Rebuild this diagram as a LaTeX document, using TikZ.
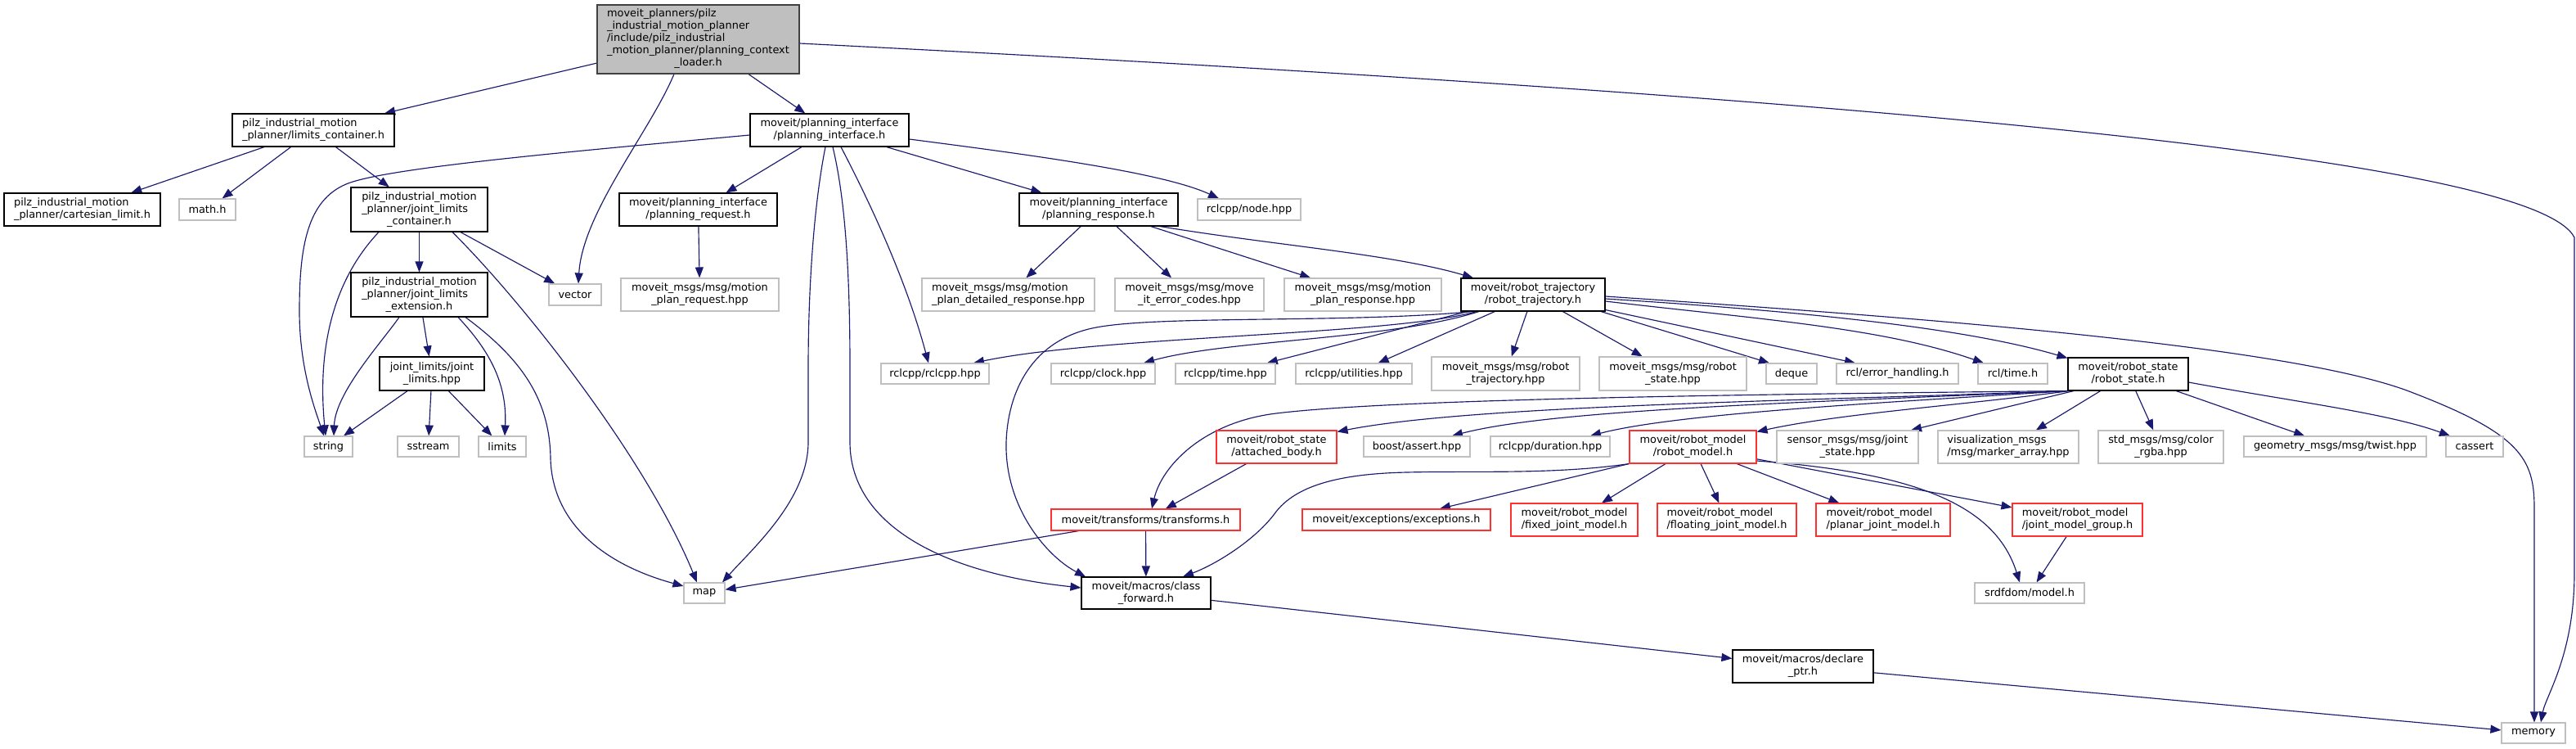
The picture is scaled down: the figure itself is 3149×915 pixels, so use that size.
\documentclass[tikz,border=0pt]{standalone}
\usepackage{fontspec}
\setmainfont{DejaVu Sans}
\usetikzlibrary{arrows.meta,backgrounds}
\definecolor{edgecol}{HTML}{191970}
\definecolor{extgray}{HTML}{BFBFBF}
\definecolor{rootfill}{HTML}{BFBFBF}
\definecolor{rootborder}{HTML}{404040}
\definecolor{redborder}{HTML}{FF3030}
\newcommand\twol[2]{\begin{tabular}{@{}l@{}}#1\\\multicolumn{1}{@{}c@{}}{#2}\end{tabular}}
\tikzset{
  basebox/.style={draw, rectangle, inner sep=0pt, line width=1.1pt, fill=white,
    font=\fontsize{12.9pt}{15pt}\selectfont, align=center},
  docbox/.style={basebox, draw=black},
  extbox/.style={basebox, draw=extgray},
  redbox/.style={basebox, draw=redborder},
  rootbox/.style={basebox, draw=rootborder, fill=rootfill},
  sz/.style 2 args={minimum width=#1pt, minimum height=#2pt},
  conn/.style={draw=edgecol, line width=1.15pt, -{Triangle[length=13pt,width=10pt]}}
}
\begin{document}
\begin{tikzpicture}[x=1pt,y=-1pt]
\useasboundingbox (0,0) rectangle (3149,915);
% ---------- nodes ----------
\node[rootbox, sz={247}{84}] (root) at (853.5,48) {\twol{moveit\_planners/pilz\\\_industrial\_motion\_planner\\/include/pilz\_industrial\\\_motion\_planner/planning\_context}{\_loader.h}};
\node[docbox, sz={198}{40}] (lc) at (383,159) {\twol{pilz\_industrial\_motion}{\_planner/limits\_container.h}};
\node[docbox, sz={191}{40}] (cart) at (100.5,256) {\twol{pilz\_industrial\_motion}{\_planner/cartesian\_limit.h}};
\node[extbox, sz={69}{26}] (math) at (253.5,256) {math.h};
\node[docbox, sz={167}{54}] (jlc) at (512.5,256) {\twol{pilz\_industrial\_motion\\\_planner/joint\_limits}{\_container.h}};
\node[docbox, sz={167}{54}] (jle) at (512.5,360) {\twol{pilz\_industrial\_motion\\\_planner/joint\_limits}{\_extension.h}};
\node[extbox, sz={64}{26}] (vector) at (703,360) {vector};
\node[docbox, sz={128}{41}] (jlh) at (528,456.5) {\twol{joint\_limits/joint}{\_limits.hpp}};
\node[extbox, sz={59}{25}] (string) at (401.5,545.5) {string};
\node[extbox, sz={75}{25}] (sstream) at (523.5,545.5) {sstream};
\node[extbox, sz={58}{25}] (limits) at (614,545.5) {limits};
\node[docbox, sz={194}{40}] (pi) at (1014,159) {\twol{moveit/planning\_interface}{/planning\_interface.h}};
\node[docbox, sz={193}{40}] (preq) at (853.5,256) {\twol{moveit/planning\_interface}{/planning\_request.h}};
\node[extbox, sz={193}{40}] (mpreq) at (855.5,360) {\twol{moveit\_msgs/msg/motion}{\_plan\_request.hpp}};
\node[docbox, sz={194}{40}] (presp) at (1343,256) {\twol{moveit/planning\_interface}{/planning\_response.h}};
\node[extbox, sz={211}{40}] (mpdr) at (1232.5,360) {\twol{moveit\_msgs/msg/motion}{\_plan\_detailed\_response.hpp}};
\node[extbox, sz={182}{40}] (mec) at (1454,360) {\twol{moveit\_msgs/msg/move}{\_it\_error\_codes.hpp}};
\node[extbox, sz={126}{26}] (node) at (1527,256) {rclcpp/node.hpp};
\node[extbox, sz={192}{40}] (mpresp) at (1666,360) {\twol{moveit\_msgs/msg/motion}{\_plan\_response.hpp}};
\node[docbox, sz={176}{40}] (rt) at (1874,360) {\twol{moveit/robot\_trajectory}{/robot\_trajectory.h}};
\node[extbox, sz={132}{25}] (rclcpp) at (1143,456.5) {rclcpp/rclcpp.hpp};
\node[extbox, sz={127}{25}] (clock) at (1348.5,456.5) {rclcpp/clock.hpp};
\node[extbox, sz={122}{25}] (time) at (1498,456.5) {rclcpp/time.hpp};
\node[extbox, sz={142}{25}] (util) at (1655,456.5) {rclcpp/utilities.hpp};
\node[extbox, sz={181}{41}] (msgrt) at (1840.5,456.5) {\twol{moveit\_msgs/msg/robot}{\_trajectory.hpp}};
\node[extbox, sz={180}{41}] (msgrs) at (2045,456.5) {\twol{moveit\_msgs/msg/robot}{\_state.hpp}};
\node[extbox, sz={62}{25}] (deque) at (2190,456.5) {deque};
\node[extbox, sz={149}{25}] (rclerr) at (2319.5,456.5) {rcl/error\_handling.h};
\node[extbox, sz={85}{25}] (rcltime) at (2460.5,456.5) {rcl/time.h};
\node[docbox, sz={147}{40}] (rs) at (2601.5,457) {\twol{moveit/robot\_state}{/robot\_state.h}};
\node[redbox, sz={147}{40}] (ab) at (1560.5,546) {\twol{moveit/robot\_state}{/attached\_body.h}};
\node[extbox, sz={130}{25}] (boost) at (1732,545.5) {boost/assert.hpp};
\node[extbox, sz={146}{25}] (dur) at (1895,545.5) {rclcpp/duration.hpp};
\node[redbox, sz={155}{40}] (rm) at (2069.5,546) {\twol{moveit/robot\_model}{/robot\_model.h}};
\node[extbox, sz={173}{40}] (js) at (2258.5,546) {\twol{sensor\_msgs/msg/joint}{\_state.hpp}};
\node[extbox, sz={172}{40}] (vis) at (2455,546) {\twol{visualization\_msgs}{/msg/marker\_array.hpp}};
\node[extbox, sz={153}{40}] (rgba) at (2641.5,546) {\twol{std\_msgs/msg/color}{\_rgba.hpp}};
\node[extbox, sz={223}{25}] (twist) at (2854.5,545.5) {geometry\_msgs/msg/twist.hpp};
\node[extbox, sz={70}{25}] (cassert) at (3025,545.5) {cassert};
\node[redbox, sz={231}{26}] (tf) at (1400.5,635) {moveit/transforms/transforms.h};
\node[redbox, sz={230}{26}] (exc) at (1707,635) {moveit/exceptions/exceptions.h};
\node[redbox, sz={155}{40}] (fixed) at (1924.5,635) {\twol{moveit/robot\_model}{/fixed\_joint\_model.h}};
\node[redbox, sz={170}{40}] (float) at (2111,635) {\twol{moveit/robot\_model}{/floating\_joint\_model.h}};
\node[redbox, sz={164}{40}] (planar) at (2302,635) {\twol{moveit/robot\_model}{/planar\_joint\_model.h}};
\node[redbox, sz={159}{40}] (jmg) at (2539.5,635) {\twol{moveit/robot\_model}{/joint\_model\_group.h}};
\node[extbox, sz={50}{25}] (map) at (861,724.5) {map};
\node[docbox, sz={158}{39}] (cf) at (1401,724.5) {\twol{moveit/macros/class}{\_forward.h}};
\node[extbox, sz={134}{25}] (srdf) at (2481,724.5) {srdfdom/model.h};
\node[docbox, sz={172}{40}] (dp) at (2204,814) {\twol{moveit/macros/declare}{\_ptr.h}};
\node[extbox, sz={78}{25}] (memory) at (3097,895.5) {memory};
% ---------- connectors ----------
\begin{pgfonlayer}{background}
\fill[white] (0,0) rectangle (3149,915);
% root
\draw[conn] (root) -- (lc);
\draw[conn] (root) -- (pi);
\draw[conn] ([xshift=-29.5pt]root.south) .. controls (795,160) and (712,260) .. ([xshift=4pt]vector.north);
\draw[conn] ([yshift=-5pt]root.east) .. controls (2400,125) and (3100,200) .. (3147,290) -- (3147,700) .. controls (3147,800) and (3112,850) .. ([xshift=9pt]memory.north);
% limits container
\draw[conn] (lc) -- (cart);
\draw[conn] (lc) -- (math);
\draw[conn] (lc) -- (jlc);
% joint limits container
\draw[conn] (jlc) -- (jle);
\draw[conn] (jlc) -- (vector);
\draw[conn] ([xshift=-49.5pt]jlc.south) .. controls (405,345) and (388,430) .. ([xshift=-3.5pt]string.north);
\draw[conn] ([xshift=40.5pt]jlc.south) .. controls (640,370) and (790,560) .. ([xshift=-9pt]map.north);
% joint limits extension
\draw[conn] (jle) -- (jlh);
\draw[conn] ([xshift=-24.5pt]jle.south) .. controls (465,420) and (410,480) .. ([xshift=6.5pt]string.north);
\draw[conn] ([xshift=47.5pt]jle.south) .. controls (600,430) and (620,470) .. ([xshift=3pt]limits.north);
\draw[conn] ([xshift=56.5pt]jle.south) .. controls (640,440) and (672,490) .. (673,560) .. controls (675,640) and (740,690) .. ([yshift=8.5pt]map.west);
% joint_limits.hpp
\draw[conn] (jlh) -- (string);
\draw[conn] (jlh) -- (sstream);
\draw[conn] (jlh) -- (limits);
% planning interface
\draw[conn] ([yshift=-6pt]pi.west) .. controls (700,185) and (470,205) .. (423,225) .. controls (376,245) and (366,300) .. (366,380) .. controls (366,450) and (385,500) .. ([xshift=-5.5pt]string.north);
\draw[conn] (pi) -- (preq);
\draw[conn] (pi) -- (presp);
\draw[conn] ([yshift=-11pt]pi.east) .. controls (1250,188) and (1420,210) .. ([xshift=-37pt]node.north);
\draw[conn] ([xshift=-5pt]pi.south) .. controls (995,250) and (988,350) .. (988,450) -- (988,540) .. controls (988,610) and (920,670) .. ([xshift=22pt]map.north);
\draw[conn] ([xshift=4pt]pi.south) .. controls (1035,250) and (1039,350) .. (1039,450) -- (1039,540) .. controls (1039,640) and (1150,700) .. ([yshift=6.5pt]cf.west);
\draw[conn] ([xshift=14pt]pi.south) .. controls (1070,260) and (1110,350) .. ([xshift=-8pt]rclcpp.north);
% planning request / response
\draw[conn] (preq) -- (mpreq);
\draw[conn] (presp) -- (mpdr);
\draw[conn] (presp) -- (mec);
\draw[conn] (presp) -- (mpresp);
\draw[conn] ([xshift=75pt]presp.south) .. controls (1560,300) and (1700,310) .. ([xshift=-73pt]rt.north);
% robot trajectory
\draw[conn] ([xshift=-74pt]rt.south) .. controls (1650,395) and (1420,385) .. (1340,400) .. controls (1260,415) and (1232,480) .. (1230,540) .. controls (1228,620) and (1280,680) .. ([xshift=-74pt]cf.north);
\draw[conn] ([xshift=-69pt]rt.south) .. controls (1700,410) and (1350,410) .. ([xshift=47pt]rclcpp.north);
\draw[conn] ([xshift=-66pt]rt.south) .. controls (1700,415) and (1500,415) .. ([xshift=49.5pt]clock.north);
\draw[conn] (rt) -- (time);
\draw[conn] (rt) -- (util);
\draw[conn] (rt) -- (msgrt);
\draw[conn] (rt) -- (msgrs);
\draw[conn] ([xshift=83pt]rt.south) -- ([xshift=-27pt]deque.north);
\draw[conn] ([yshift=2pt]rt.south east) -- ([xshift=-51.5pt]rclerr.north);
\draw[conn] ([yshift=-8pt]rt.east) .. controls (2150,390) and (2300,400) .. ([xshift=-35.5pt]rcltime.north);
\draw[conn] ([yshift=-5pt]rt.east) .. controls (2200,380) and (2400,400) .. ([yshift=-1pt]rs.north west);
\draw[conn] ([yshift=-2pt]rt.east) .. controls (2300,385) and (2800,420) .. (2950,480) .. controls (3080,530) and (3098,560) .. (3098,620) -- ([xshift=1pt]memory.north);
% robot state
\draw[conn] (rs.south west) .. controls (2100,482) and (1700,488) .. (1560,505) .. controls (1470,516) and (1420,570) .. ([xshift=7.5pt]tf.north);
\draw[conn] (rs.south west) .. controls (2200,490) and (1800,495) .. ([yshift=-2pt]ab.north east);
\draw[conn] (rs.south west) .. controls (2200,492) and (1900,500) .. ([xshift=43pt]boost.north);
\draw[conn] (rs.south west) .. controls (2300,492) and (2050,505) .. ([xshift=49pt]dur.north);
\draw[conn] ([xshift=2pt]rs.south west) .. controls (2400,495) and (2250,505) .. ([yshift=-2pt]rm.north east);
\draw[conn] ([xshift=-66.5pt]rs.south) -- ([xshift=77.5pt]js.north);
\draw[conn] (rs) -- (vis);
\draw[conn] (rs) -- (rgba);
\draw[conn] (rs) -- (twist);
\draw[conn] ([yshift=-10pt]rs.east) .. controls (2800,490) and (2920,505) .. ([xshift=-30pt]cassert.north);
% robot model
\draw[conn] (rm.south west) -- ([xshift=53pt]exc.north);
\draw[conn] (rm.south west) .. controls (1900,580) and (1800,575) .. (1720,577) .. controls (1620,579) and (1580,600) .. (1560,625) .. controls (1535,660) and (1485,690) .. ([xshift=45pt]cf.north);
\draw[conn] (rm) -- (fixed);
\draw[conn] (rm) -- (float);
\draw[conn] (rm) -- (planar);
\draw[conn] (rm) -- (jmg);
\draw[conn] ([yshift=-17pt]rm.east) .. controls (2350,578) and (2440,620) .. ([xshift=-12pt]srdf.north);
\draw[conn] (jmg) -- (srdf);
% others
\draw[conn] (ab) -- (tf);
\draw[conn] (tf) -- (map);
\draw[conn] (tf) -- (cf);
\draw[conn] (cf) -- (dp);
\draw[conn] (dp) -- (memory);
\end{pgfonlayer}
\end{tikzpicture}
\end{document}
